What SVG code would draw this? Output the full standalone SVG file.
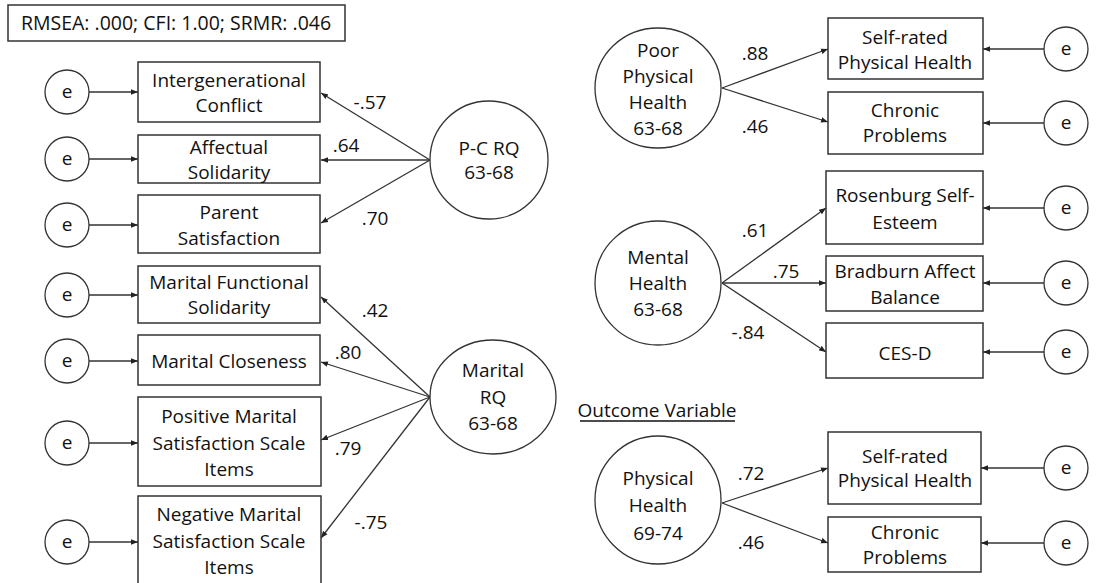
<svg xmlns="http://www.w3.org/2000/svg" width="1102" height="583" viewBox="0 0 1102 583">
<defs>
<marker id="ah" viewBox="0 0 10 10" refX="10" refY="5" markerWidth="7" markerHeight="7" markerUnits="userSpaceOnUse" orient="auto"><path d="M0,1 L10,5 L0,9 z" fill="#222"/></marker>
<style>
rect{fill:#fff;stroke:#333;stroke-width:1.5}
circle,ellipse{fill:#fff;stroke:#333;stroke-width:1.3}
text{font-family:"Open Sans","Liberation Sans",sans-serif;font-size:19px;fill:#111;text-anchor:middle}
.c line{stroke:#333;stroke-width:1.3;marker-end:url(#ah)}
</style>
</defs>
<rect width="1102" height="583" style="fill:#fff;stroke:none"/>
<g id="fit"><rect x="8" y="5" width="337" height="36"/><text x="176" y="30" style="font-size:19.5px">RMSEA: .000; CFI: 1.00; SRMR: .046</text></g>

<g class="c" id="connectors">
<line x1="89" y1="92" x2="138" y2="92"/>
<line x1="89" y1="159" x2="138" y2="159"/>
<line x1="89" y1="225" x2="138" y2="225"/>
<line x1="89" y1="295" x2="138" y2="295"/>
<line x1="89" y1="361" x2="138" y2="361"/>
<line x1="89" y1="443" x2="138" y2="443"/>
<line x1="89" y1="542" x2="138" y2="542"/>
<line x1="430" y1="160" x2="321" y2="93"/>
<line x1="430" y1="160" x2="321" y2="160"/>
<line x1="430" y1="160" x2="321" y2="223"/>
<line x1="430" y1="397" x2="321" y2="297"/>
<line x1="430" y1="397" x2="321" y2="362"/>
<line x1="430" y1="397" x2="321" y2="440"/>
<line x1="430" y1="397" x2="321" y2="538"/>
<line x1="722" y1="88" x2="828" y2="49"/>
<line x1="722" y1="88" x2="828" y2="122"/>
<line x1="722" y1="283" x2="826" y2="208"/>
<line x1="722" y1="283" x2="826" y2="283"/>
<line x1="722" y1="283" x2="826" y2="352"/>
<line x1="722" y1="503" x2="828" y2="468"/>
<line x1="722" y1="503" x2="828" y2="543"/>
<line x1="1044" y1="49" x2="983" y2="49"/>
<line x1="1044" y1="123" x2="983" y2="123"/>
<line x1="1044" y1="208" x2="983" y2="208"/>
<line x1="1044" y1="283" x2="983" y2="283"/>
<line x1="1044" y1="352" x2="983" y2="352"/>
<line x1="1044" y1="468" x2="981" y2="468"/>
<line x1="1044" y1="543" x2="981" y2="543"/>
</g>
<g id="loadings">
<text x="370" y="109">-.57</text>
<text x="346" y="152">.64</text>
<text x="375" y="225">.70</text>
<text x="375" y="317">.42</text>
<text x="348" y="359">.80</text>
<text x="348" y="455">.79</text>
<text x="371" y="529">-.75</text>
<text x="755" y="60">.88</text>
<text x="755" y="133">.46</text>
<text x="755" y="237">.61</text>
<text x="786" y="278">.75</text>
<text x="748" y="339">-.84</text>
<text x="751" y="480">.72</text>
<text x="751" y="549">.46</text>
</g>

<g id="e1"><circle cx="67" cy="92" r="22"/><text x="67" y="98">e</text></g>
<g id="e2"><circle cx="67" cy="159" r="22"/><text x="67" y="165">e</text></g>
<g id="e3"><circle cx="67" cy="225" r="22"/><text x="67" y="231">e</text></g>
<g id="e4"><circle cx="67" cy="295" r="22"/><text x="67" y="301">e</text></g>
<g id="e5"><circle cx="67" cy="361" r="22"/><text x="67" y="367">e</text></g>
<g id="e6"><circle cx="67" cy="443" r="22"/><text x="67" y="449">e</text></g>
<g id="e7"><circle cx="67" cy="542" r="22"/><text x="67" y="548">e</text></g>

<g id="intergen"><rect x="138" y="62" width="182" height="60"/><text x="229" y="87">Intergenerational</text><text x="229" y="112">Conflict</text></g>
<g id="affectual"><rect x="138" y="135" width="182" height="48"/><text x="229" y="154">Affectual</text><text x="229" y="179">Solidarity</text></g>
<g id="parent"><rect x="138" y="195" width="182" height="58"/><text x="229" y="219">Parent</text><text x="229" y="245">Satisfaction</text></g>
<g id="mfs"><rect x="138" y="266" width="182" height="57"/><text x="229" y="289">Marital Functional</text><text x="229" y="314">Solidarity</text></g>
<g id="mc"><rect x="138" y="335" width="182" height="50"/><text x="229" y="368">Marital Closeness</text></g>
<g id="pos"><rect x="138" y="397" width="183" height="89"/><text x="229" y="423">Positive Marital</text><text x="229" y="450">Satisfaction Scale</text><text x="229" y="476">Items</text></g>
<g id="neg"><rect x="138" y="496" width="183" height="95"/><text x="229" y="521">Negative Marital</text><text x="229" y="548">Satisfaction Scale</text><text x="229" y="574">Items</text></g>

<g id="pcrq"><circle cx="489" cy="160" r="59"/><text x="489" y="155">P-C RQ</text><text x="489" y="179">63-68</text></g>
<g id="mrq"><ellipse cx="493" cy="397" rx="63" ry="57"/><text x="493" y="377">Marital</text><text x="493" y="404">RQ</text><text x="493" y="430">63-68</text></g>

<g id="pph"><ellipse cx="658" cy="88" rx="63" ry="60"/><text x="658" y="57">Poor</text><text x="658" y="83">Physical</text><text x="658" y="109">Health</text><text x="658" y="135">63-68</text></g>
<g id="mh"><ellipse cx="658" cy="283" rx="63" ry="62"/><text x="658" y="264">Mental</text><text x="658" y="290">Health</text><text x="658" y="316">63-68</text></g>
<g id="ph"><ellipse cx="658" cy="500" rx="63" ry="64"/><text x="658" y="485">Physical</text><text x="658" y="512">Health</text><text x="658" y="540">69-74</text></g>

<g id="outcome"><text x="657" y="417">Outcome Variable</text><line x1="580" y1="421" x2="735" y2="421" style="stroke:#111;stroke-width:1.3"/></g>

<g id="srph1"><rect x="828" y="18" width="155" height="61"/><text x="905" y="44">Self-rated</text><text x="905" y="69">Physical Health</text></g>
<g id="cp1"><rect x="828" y="92" width="155" height="62"/><text x="905" y="117">Chronic</text><text x="905" y="142">Problems</text></g>
<g id="rse"><rect x="826" y="171" width="157" height="73"/><text x="905" y="202">Rosenburg Self-</text><text x="905" y="229">Esteem</text></g>
<g id="bab"><rect x="826" y="256" width="157" height="55"/><text x="905" y="278">Bradburn Affect</text><text x="905" y="304">Balance</text></g>
<g id="cesd"><rect x="826" y="323" width="157" height="55"/><text x="905" y="360">CES-D</text></g>
<g id="srph2"><rect x="828" y="432" width="153" height="72"/><text x="905" y="463">Self-rated</text><text x="905" y="487">Physical Health</text></g>
<g id="cp2"><rect x="828" y="517" width="153" height="55"/><text x="905" y="539">Chronic</text><text x="905" y="564">Problems</text></g>

<g id="er1"><circle cx="1066" cy="49" r="22"/><text x="1066" y="55">e</text></g>
<g id="er2"><circle cx="1066" cy="123" r="22"/><text x="1066" y="129">e</text></g>
<g id="er3"><circle cx="1066" cy="208" r="22"/><text x="1066" y="214">e</text></g>
<g id="er4"><circle cx="1066" cy="283" r="22"/><text x="1066" y="289">e</text></g>
<g id="er5"><circle cx="1066" cy="352" r="22"/><text x="1066" y="358">e</text></g>
<g id="er6"><circle cx="1066" cy="468" r="22"/><text x="1066" y="474">e</text></g>
<g id="er7"><circle cx="1066" cy="543" r="22"/><text x="1066" y="549">e</text></g>
</svg>
